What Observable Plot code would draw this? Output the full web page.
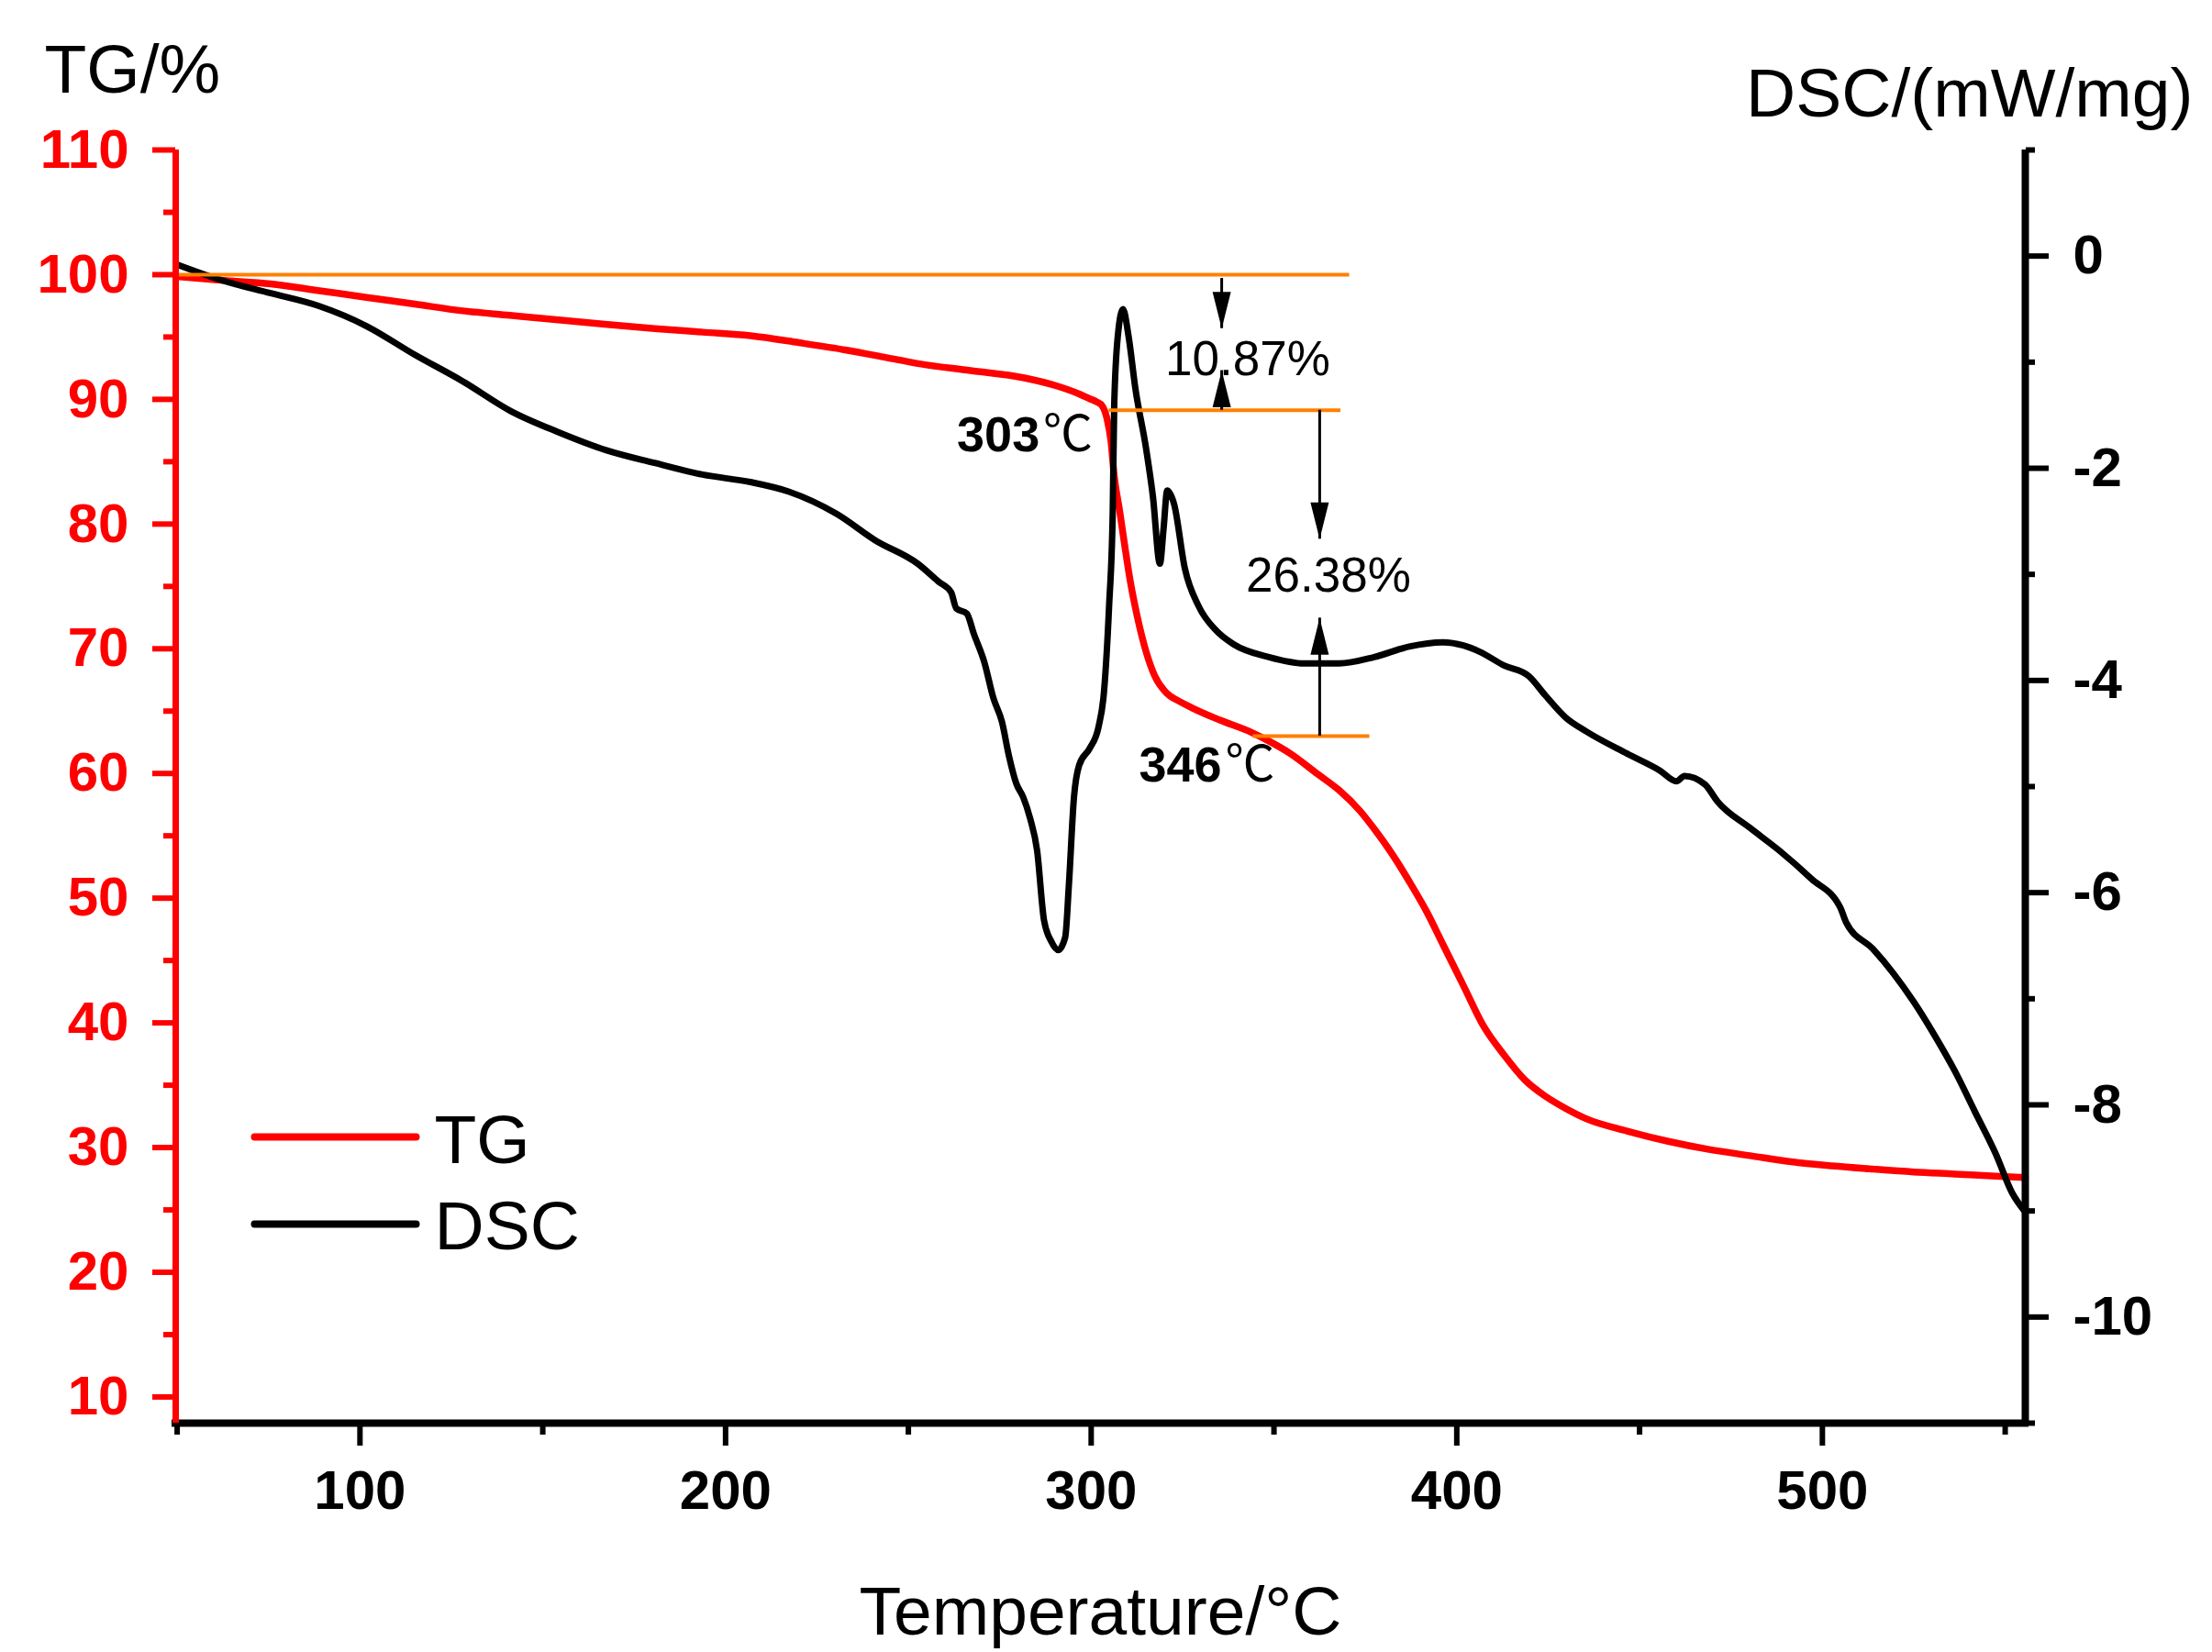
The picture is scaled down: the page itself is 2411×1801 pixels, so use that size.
<!DOCTYPE html>
<html>
<head>
<meta charset="utf-8">
<script src="https://cdn.jsdelivr.net/npm/d3@7"></script>
<script src="https://cdn.jsdelivr.net/npm/@observablehq/plot@0.6"></script>
<style>
  html, body { margin: 0; padding: 0; background: #fff; overflow: hidden; }
</style>
</head>
<body>
<div id="chart"></div>
<script>
// TG curve (temperature °C, mass %)
const tgTemp = [50, 62, 75.6, 88, 101.8, 115, 128.1, 141, 154.3, 167, 180.6, 193.7, 206.8, 220, 233.1, 244,
  252.6, 267, 281.4, 291, 297, 299.6, 301.5, 303, 304.4, 305.4, 306.3, 307.8, 309.2, 310.7, 312.6, 315,
  317.4, 320.8, 324, 327.5, 335.2, 343.8, 348.6, 354.4, 362.1, 367.8, 373.6, 377.4, 382.2, 387, 391.8,
  396.2, 401.8, 407.4, 413, 418.6, 424.2, 429.8, 435.4, 446.6, 457.8, 469, 480.2, 491.4, 502.6, 513.8,
  525, 536.2, 547.4, 555.5]
const tgMass = [99.85, 99.55, 99.26, 98.75, 98.18, 97.64, 97.1, 96.74, 96.37, 96.03, 95.68, 95.39, 95.1, 94.55, 93.95, 93.35,
  92.87, 92.31, 91.74, 91.04, 90.4, 90.05, 89.8, 89.49, 88.36, 86.67, 83.86, 81.04, 78.23, 75.41, 72.59, 69.78,
  67.81, 66.4, 65.8, 65.27, 64.28, 63.3, 62.6, 61.61, 59.92, 58.66, 56.97, 55.56, 53.59, 51.34, 48.9,
  46.3, 43.0, 39.7, 37.4, 35.43, 34.12, 33.13, 32.31, 31.32, 30.5, 29.85, 29.35, 28.86, 28.53, 28.27,
  28.04, 27.88, 27.71, 27.6]

// DSC curve (temperature °C, mW/mg)
const dscTemp = [50, 62.4, 75.6, 88.7, 101.8, 115, 128.1, 141.2, 154.3, 167.4, 180.6, 193.7, 206.8, 217.3, 230.4, 241,
  252.6, 258.3, 261.7, 263.1, 266, 267.9, 270.8, 273.2, 275.6, 277.5, 279.5, 281.4, 283.3, 285.2, 287.1,
  289.1, 291, 292.9, 293.9, 295.3, 296.7, 299.6, 302, 303.5, 304.9, 305.9, 306.3, 307.3, 308.7, 310.2,
  312.1, 315, 316.9, 318.8, 319.8, 320.8, 322.7, 325.6, 329.4, 334.2, 339, 348.6, 358.2, 367.8, 377.4,
  387, 396.2, 401.8, 406.3, 413, 419.7, 424.2, 429.8, 435.4, 446.6, 455.6, 460.1, 462.3, 467.9, 471.3,
  480.2, 488.1, 497, 504.9, 506.5, 513.8, 519.4, 525, 530.6, 536.2, 541.8, 547.4, 551.9, 555.5]
const dscValue = [-0.08, -0.23, -0.35, -0.47, -0.66, -0.93, -1.18, -1.46, -1.66, -1.83, -1.95, -2.06, -2.13, -2.22, -2.43, -2.68,
  -2.9, -3.07, -3.17, -3.32, -3.37, -3.56, -3.83, -4.16, -4.39, -4.71, -4.97, -5.1, -5.3, -5.6, -6.26,
  -6.46, -6.54, -6.42, -5.93, -5.1, -4.8, -4.64, -4.44, -4.11, -3.3, -2.41, -1.41, -0.75, -0.5, -0.75,
  -1.25, -1.81, -2.27, -2.9, -2.57, -2.21, -2.34, -2.94, -3.3, -3.53, -3.66, -3.78, -3.84, -3.84, -3.78,
  -3.68, -3.64, -3.67, -3.73, -3.86, -3.96, -4.14, -4.35, -4.48, -4.69, -4.85, -4.95, -4.9, -4.98, -5.14,
  -5.39, -5.6, -5.87, -6.14, -6.28, -6.53, -6.76, -7.03, -7.34, -7.68, -8.07, -8.46, -8.83, -9.01]

// axes
const xDomain = [49.6, 555.5]
const tgDomain = [7.9, 110]
const dscDomain = [-11, 1]
const xMajor = [100, 200, 300, 400, 500]
const xMinor = [50, 150, 250, 350, 450, 550]
const tgMajor = [10, 20, 30, 40, 50, 60, 70, 80, 90, 100, 110]
const tgMinor = [15, 25, 35, 45, 55, 65, 75, 85, 95, 105]
const dscMajor = [0, -2, -4, -6, -8, -10]
const dscMinor = [1, -1, -3, -5, -7, -9, -11]

// annotations: mass-loss steps and arrows
const stepLevel = [100, 89.13, 63.0]
const stepFrom = [49.6, 304.9, 344.3]
const stepTo = [370.7, 368.3, 376.2]
const arrowTemp = [335.7, 335.7, 362.5, 362.5]
const arrowFrom = [99.7, 89.13, 89.13, 63.0]
const arrowTip = [95.68, 92.31, 78.79, 72.46]
const arrowDir = ["down", "up", "down", "up"]
const lossText = ["10.87%", "26.38%"]
const lossTemp = [342.8, 364.9]
const lossMass = [91.97, 74.56]
const onsetText = ["303", "346"]
const onsetTemp = [263.3, 313.1]
const onsetMass = [85.83, 59.37]

const legendLabels = ["TG", "DSC"]
const legendColors = ["#ff0000", "#000000"]

// DSC values are drawn on the TG scale through this mapping
const dscToTg = d3.scaleLinear().domain(dscDomain).range(tgDomain)

const tg = tgTemp.map((t, i) => ({t, v: tgMass[i]}))
const dsc = dscTemp.map((t, i) => ({t, v: dscToTg(dscValue[i])}))
const steps = stepLevel.map((y, i) => ({y, x1: stepFrom[i], x2: stepTo[i]}))
const arrows = arrowTemp.map((x, i) => ({x, from: arrowFrom[i], to: arrowTip[i], dir: arrowDir[i]}))
const losses = lossText.map((s, i) => ({s, x: lossTemp[i], y: lossMass[i]}))
const onsets = onsetText.map((s, i) => ({s, x: onsetTemp[i], y: onsetMass[i]}))

// filled arrow head, apex at the origin pointing down
const head = {draw(ctx) { ctx.moveTo(0, 0); ctx.lineTo(-10, -40); ctx.lineTo(10, -40); ctx.closePath() }}
const legendStroke = {draw(ctx) { ctx.moveTo(-88, 0); ctx.lineTo(88, 0) }}

const font = "Liberation Sans, Arial, Noto Sans CJK SC, sans-serif"

const legendMarks = legendLabels.flatMap((label, i) => [
  Plot.dot([label], {frameAnchor: "top-left", dx: 174, dy: 1076 + i * 95, symbol: legendStroke,
    fill: "none", stroke: legendColors[i], strokeWidth: 8, strokeLinecap: "round"}),
  Plot.text([label], {frameAnchor: "top-left", dx: 282, dy: 1104 + i * 94, text: d => d,
    textAnchor: "start", lineAnchor: "bottom", fontSize: 75, fill: "black"})
])

const chart = Plot.plot({
  width: 2411,
  height: 1801,
  marginLeft: 191,
  marginRight: 204,
  marginTop: 163,
  marginBottom: 250,
  x: {domain: xDomain},
  y: {domain: tgDomain},
  style: {fontFamily: font, background: "white", overflow: "visible"},
  marks: [
    // curves
    Plot.line(tg, {x: "t", y: "v", stroke: "#ff0000", strokeWidth: 7.5, curve: "monotone-x", strokeLinejoin: "round"}),
    Plot.line(dsc, {x: "t", y: "v", stroke: "black", strokeWidth: 7, curve: "monotone-x", strokeLinejoin: "round"}),

    // annotations
    Plot.ruleY(steps, {y: "y", x1: "x1", x2: "x2", stroke: "#ff8000", strokeWidth: 4}),
    Plot.ruleX(arrows, {x: "x", y1: "from", y2: "to", stroke: "black", strokeWidth: 3}),
    Plot.dot(arrows, {x: "x", y: "to", symbol: head, fill: "black", stroke: "none",
      rotate: d => d.dir === "up" ? 180 : 0}),
    Plot.text(losses, {x: "x", y: "y", text: "s", lineAnchor: "bottom", fontSize: 53, fill: "black"}),
    Plot.text(onsets, {x: "x", y: "y", text: "s", textAnchor: "start", lineAnchor: "bottom",
      fontSize: 54, fontWeight: "bold", fill: "black"}),
    Plot.text(onsets, {x: "x", y: "y", text: () => "\u2103", dx: 94, textAnchor: "start", lineAnchor: "bottom",
      fontSize: 54, fontWeight: "normal", fill: "black"}),

    // bottom axis
    Plot.axisX(xMajor, {tickSize: 25, tickPadding: 26, strokeWidth: 6, fontSize: 60, fontWeight: "bold",
      color: "black", label: null, tickFormat: d => String(d)}),
    Plot.axisX(xMinor, {tickSize: 13, strokeWidth: 6, text: null, label: null}),
    Plot.ruleY([tgDomain[0]], {stroke: "black", strokeWidth: 8, strokeLinecap: "square"}),

    // left axis (TG)
    Plot.axisY(tgMajor, {anchor: "left", tickSize: 25, tickPadding: 26, strokeWidth: 6, fontSize: 60,
      fontWeight: "bold", color: "#ff0000", label: null, tickFormat: d => String(d)}),
    Plot.axisY(tgMinor, {anchor: "left", tickSize: 13, strokeWidth: 6, color: "#ff0000", text: null, label: null}),
    Plot.ruleX([xDomain[0]], {stroke: "#ff0000", strokeWidth: 7}),

    // right axis (DSC)
    Plot.axisY(dscMajor.map(dscToTg), {anchor: "right", tickSize: 25, tickPadding: 27, strokeWidth: 6,
      fontSize: 60, fontWeight: "bold", color: "black", label: null,
      tickFormat: d => String(Math.round(dscToTg.invert(d)))}),
    Plot.axisY(dscMinor.map(dscToTg), {anchor: "right", tickSize: 10, strokeWidth: 6, color: "black", text: null, label: null}),
    Plot.ruleX([xDomain[1]], {stroke: "black", strokeWidth: 8}),

    // axis titles
    Plot.text(["TG/%"], {frameAnchor: "top-left", dx: -143, dy: -63, text: d => d, textAnchor: "start",
      lineAnchor: "bottom", fontSize: 75, fill: "black"}),
    Plot.text(["DSC/(mW/mg)"], {frameAnchor: "top-right", dx: 183, dy: -37, text: d => d, textAnchor: "end",
      lineAnchor: "bottom", fontSize: 75, fill: "black"}),
    Plot.text(["Temperature/°C"], {frameAnchor: "bottom", dy: 230, text: d => d,
      lineAnchor: "bottom", fontSize: 75, fill: "black"}),

    ...legendMarks
  ]
})

d3.select("#chart").append(() => chart)
</script>
</body>
</html>
